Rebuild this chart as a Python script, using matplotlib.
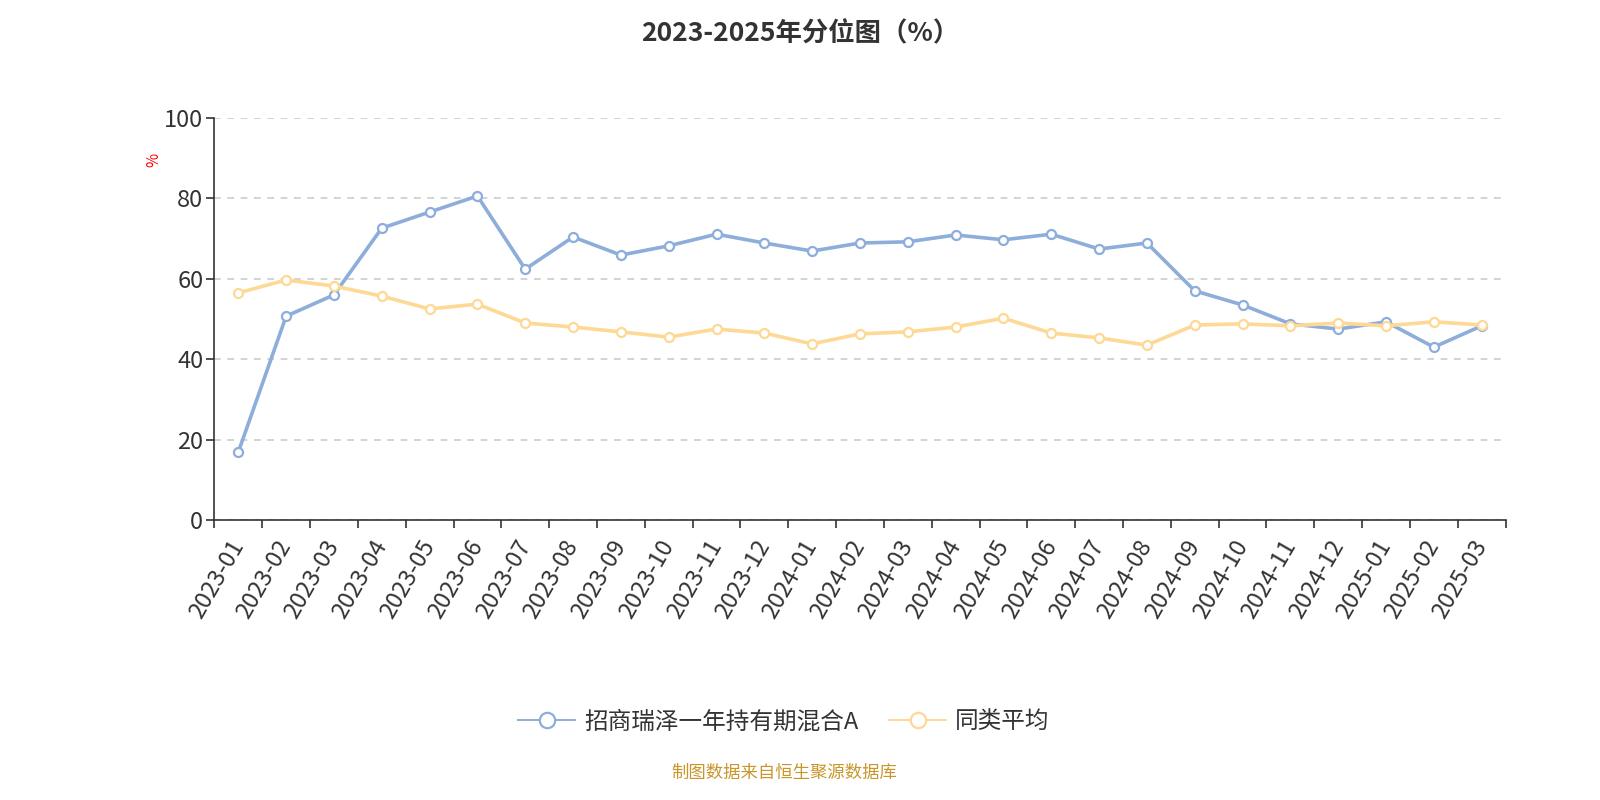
import numpy as np
import matplotlib
matplotlib.use('Agg')
import matplotlib.pyplot as plt

plt.rcParams['font.family'] = ['Noto Sans CJK SC', 'DejaVu Sans']

# months on the x axis
months = ['2023-01', '2023-02', '2023-03', '2023-04', '2023-05', '2023-06',
          '2023-07', '2023-08', '2023-09', '2023-10', '2023-11', '2023-12',
          '2024-01', '2024-02', '2024-03', '2024-04', '2024-05', '2024-06',
          '2024-07', '2024-08', '2024-09', '2024-10', '2024-11', '2024-12',
          '2025-01', '2025-02', '2025-03']

# fund percentile values
fund = [16.9, 50.7, 56.0, 72.6, 76.6, 80.6, 62.4, 70.4, 65.9, 68.2, 71.1, 68.9,
        66.9, 68.9, 69.2, 70.9, 69.7, 71.1, 67.4, 68.9, 57.0, 53.5, 48.8, 47.5,
        49.3, 43.0, 48.3]

# peer average
peer = [56.5, 59.7, 58.2, 55.7, 52.5, 53.7, 49.0, 48.0, 46.8, 45.5, 47.5, 46.5,
        43.8, 46.3, 46.8, 48.0, 50.2, 46.5, 45.3, 43.5, 48.5, 48.8, 48.3, 49.0,
        48.3, 49.3, 48.5]

fund_name = '招商瑞泽一年持有期混合A'
peer_name = '同类平均'
blue = '#8daddb'
orange = '#fdd995'

fig = plt.figure(figsize=(16, 8), dpi=100)
ax = fig.add_axes([0.134, 0.35, 0.807, 0.5025])

x = np.arange(len(months))
ax.plot(x, fund, color=blue, lw=2.6, marker='o', ms=6.5, mfc='white',
        mec=blue, mew=1.6, label=fund_name, zorder=3)
ax.plot(x, peer, color=orange, lw=2.6, marker='o', ms=6.5, mfc='white',
        mec=orange, mew=1.6, label=peer_name, zorder=3)

ax.set_xlim(-0.5, len(months) - 0.5)
ax.set_ylim(0, 100)
ax.set_yticks([0, 20, 40, 60, 80, 100])
ax.yaxis.grid(True, linestyle=(0, (4, 4)), color='#cccccc', lw=1.2)
ax.set_axisbelow(True)

# ticks at band edges, labels at band centres
ax.set_xticks(np.arange(-0.5, len(months), 1.0))
ax.set_xticklabels([])
ax.set_xticks(x, minor=True)
ax.set_xticklabels(months, minor=True, rotation=60, ha='right', va='center',
                   rotation_mode='anchor', fontsize=17, color='#333333')
ax.tick_params(axis='x', which='major', length=6, width=1.2, color='#333333')
ax.tick_params(axis='x', which='minor', length=0, pad=16)
ax.tick_params(axis='y', length=6, width=1.2, color='#333333',
               labelsize=17, labelcolor='#333333', pad=2)

for s in ['top', 'right']:
    ax.spines[s].set_visible(False)
for s in ['left', 'bottom']:
    ax.spines[s].set_color('#333333')
    ax.spines[s].set_linewidth(1.2)

fig.text(0.096, 0.80, '%', color='red', fontsize=11, rotation=90,
         ha='center', va='center')

fig.suptitle('2023-2025年分位图（%）', fontsize=19, fontweight='bold',
             color='#333333', y=0.975)

leg = fig.legend(loc='center', bbox_to_anchor=(0.49, 0.098), ncol=2,
                 frameon=False, fontsize=17, handlelength=2.4,
                 columnspacing=1.3, handletextpad=0.4, markerscale=1.7)
for t in leg.get_texts():
    t.set_color('#333333')
for h in leg.legend_handles:
    h.set_linewidth(1.4)

fig.text(0.49, 0.034, '制图数据来自恒生聚源数据库', color='#c8962a',
         fontsize=12.5, ha='center', va='center')

fig.savefig('out.png', dpi=100)
